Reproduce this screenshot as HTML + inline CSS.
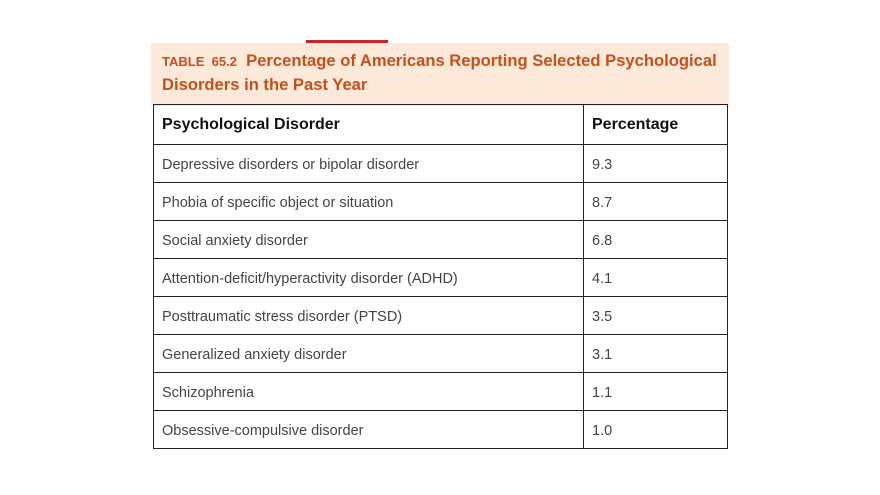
<!DOCTYPE html>
<html><head><style>
body{margin:0;width:880px;height:495px;background:#fff;position:relative;font-family:"Liberation Sans",sans-serif;overflow:hidden}
.hdr{position:absolute;left:151px;top:43px;width:578px;height:62px;background:#fde9da;border-top:1px solid #eee}
.red{position:absolute;left:306px;top:40px;width:82px;height:3px;background:#d0202a}
.t{position:absolute;left:162px;top:49px;color:#c4501a;font-weight:bold;font-size:16.6px;line-height:23px;width:570px}
.t small{font-size:13px}
table{position:absolute;left:153px;top:104px;border-collapse:collapse;width:575px}
td{border:1.5px solid #222;height:38px;padding:2px 0 0 8px;box-sizing:border-box;font-size:14.5px;color:#444}
tr:first-child td{height:40px;padding-top:0;font-size:16px;font-weight:bold;color:#111}
td:first-child{width:430px}
</style></head><body>
<div class="hdr"></div><div class="red"></div>
<div class="t"><small>TABLE&nbsp; 65.2</small>&nbsp; Percentage of Americans Reporting Selected Psychological Disorders in the Past Year</div>
<table>
<tr><td>Psychological Disorder</td><td>Percentage</td></tr>
<tr><td>Depressive disorders or bipolar disorder</td><td>9.3</td></tr>
<tr><td>Phobia of specific object or situation</td><td>8.7</td></tr>
<tr><td>Social anxiety disorder</td><td>6.8</td></tr>
<tr><td>Attention-deficit/hyperactivity disorder (ADHD)</td><td>4.1</td></tr>
<tr><td>Posttraumatic stress disorder (PTSD)</td><td>3.5</td></tr>
<tr><td>Generalized anxiety disorder</td><td>3.1</td></tr>
<tr><td>Schizophrenia</td><td>1.1</td></tr>
<tr><td>Obsessive-compulsive disorder</td><td>1.0</td></tr>
</table>
</body></html>
